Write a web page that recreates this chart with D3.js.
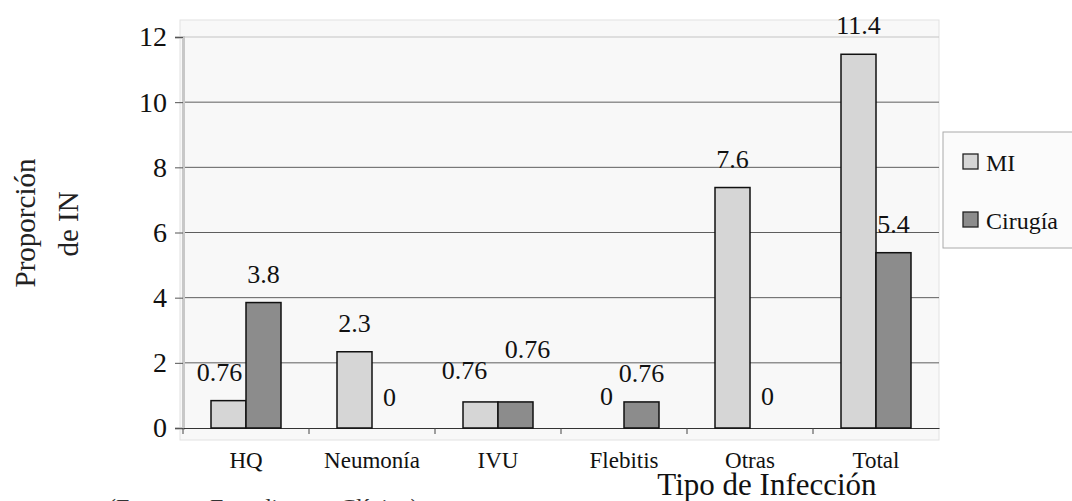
<!DOCTYPE html>
<html>
<head>
<meta charset="utf-8">
<script src="https://cdn.jsdelivr.net/npm/d3@7"></script>
<style>
  body { margin: 0; background: #fff; }
  svg { display: block; font-family: "Liberation Serif", "Times New Roman", serif; }
  .bar { stroke: #111; stroke-width: 1.5; }
</style>
</head>
<body>
<div id="chart"></div>
<script>
// categories and series
var categories = ["HQ", "Neumonía", "IVU", "Flebitis", "Otras", "Total"];
var seriesNames = ["MI", "Cirugía"];
// bar heights as drawn in the picture
var miValues = [0.84, 2.34, 0.8, 0, 7.38, 11.47];
var cirugiaValues = [3.85, 0, 0.8, 0.8, 0, 5.38];
// printed data labels
var miLabels = ["0.76", "2.3", "0.76", "0", "7.6", "11.4"];
var cirugiaLabels = ["3.8", "0", "0.76", "0.76", "0", "5.4"];
var yTicks = [0, 2, 4, 6, 8, 10, 12];

var colors = { "MI": "#d6d6d6", "Cirugía": "#8c8c8c" };

var width = 1072, height = 501;
var plot = { left: 183, right: 939, top: 37, bottom: 428 };

// hand-placed label nudges, like in the original sheet
var labelNudge = {
  "HQ|MI": [-9, 0],
  "Neumonía|Cirugía": [0, -2],
  "IVU|MI": [-16, -3],
  "IVU|Cirugía": [12, -24],
  "Flebitis|MI": [0, -3],
  "Otras|Cirugía": [0, -3]
};

var svg = d3.select("#chart")
  .append("svg")
  .attr("width", width)
  .attr("height", height);

var rows = categories.map(function(c, i) {
  return {
    cat: c,
    bars: [
      { cat: c, s: "MI", v: miValues[i], label: miLabels[i] },
      { cat: c, s: "Cirugía", v: cirugiaValues[i], label: cirugiaLabels[i] }
    ]
  };
});

var x0 = d3.scaleBand()
  .domain(categories)
  .range([plot.left, plot.right])
  .padding(0);

var x1 = d3.scaleBand()
  .domain(seriesNames)
  .range([0, x0.bandwidth()])
  .paddingInner(0)
  .paddingOuter(0.8);

var y = d3.scaleLinear()
  .domain([0, 12])
  .range([plot.bottom, plot.top]);

// plot area background
svg.append("rect")
  .attr("x", plot.left - 3)
  .attr("y", 20)
  .attr("width", plot.right - plot.left + 3)
  .attr("height", 420)
  .attr("fill", "#f8f8f8")
  .attr("stroke", "#e2e2e2");

// gridlines
svg.append("g")
  .selectAll("line")
  .data(yTicks.filter(function(d) { return d > 0; }))
  .enter()
  .append("line")
  .attr("x1", plot.left)
  .attr("x2", plot.right)
  .attr("y1", function(d) { return y(d); })
  .attr("y2", function(d) { return y(d); })
  .attr("stroke", function(d) { return d == 12 ? "#c4c4c4" : "#5e5e5e"; });

// y axis
var yAxis = d3.axisLeft(y)
  .tickValues(yTicks)
  .tickSize(8)
  .tickPadding(8);

var gy = svg.append("g")
  .attr("transform", "translate(" + plot.left + ",0)")
  .call(yAxis);
gy.select(".domain").attr("stroke", "#c8c8c8").attr("stroke-width", 3);
gy.selectAll(".tick line").attr("stroke", "#555");
gy.selectAll(".tick text")
  .attr("font-family", "Liberation Serif, serif")
  .attr("font-size", 28)
  .attr("fill", "#111");

// x axis
var xAxis = d3.axisBottom(x0)
  .tickSize(0)
  .tickPadding(24);

var gx = svg.append("g")
  .attr("transform", "translate(0," + plot.bottom + ")")
  .call(xAxis);
gx.select(".domain").attr("stroke", "#333").attr("stroke-width", 1.2);
gx.selectAll(".tick text")
  .attr("font-family", "Liberation Serif, serif")
  .attr("font-size", 23)
  .attr("fill", "#111");

// category boundary ticks
svg.append("g")
  .selectAll("line")
  .data(categories)
  .enter()
  .append("line")
  .attr("x1", function(d) { return x0(d); })
  .attr("x2", function(d) { return x0(d); })
  .attr("y1", plot.bottom)
  .attr("y2", plot.bottom + 6)
  .attr("stroke", "#444");

// bars
var groups = svg.append("g")
  .selectAll("g")
  .data(rows)
  .enter()
  .append("g")
  .attr("transform", function(d) { return "translate(" + x0(d.cat) + ",0)"; });

groups.selectAll("rect")
  .data(function(d) { return d.bars.filter(function(b) { return b.v > 0; }); })
  .enter()
  .append("rect")
  .attr("class", "bar")
  .attr("x", function(d) { return x1(d.s); })
  .attr("y", function(d) { return y(d.v); })
  .attr("width", x1.bandwidth())
  .attr("height", function(d) { return y(0) - y(d.v); })
  .attr("fill", function(d) { return colors[d.s]; });

// data labels
function nudge(d) {
  return labelNudge[d.cat + "|" + d.s] || [0, 0];
}

groups.selectAll("text")
  .data(function(d) { return d.bars; })
  .enter()
  .append("text")
  .attr("x", function(d) { return x1(d.s) + x1.bandwidth() / 2 + nudge(d)[0]; })
  .attr("y", function(d) { return y(d.v) - 20 + nudge(d)[1]; })
  .attr("text-anchor", "middle")
  .attr("font-size", 26)
  .attr("fill", "#111")
  .text(function(d) { return d.label; });

// axis titles
svg.append("text")
  .attr("transform", "translate(35,223) rotate(-90)")
  .attr("text-anchor", "middle")
  .attr("font-size", 29)
  .attr("fill", "#222")
  .text("Proporción");
svg.append("text")
  .attr("transform", "translate(78,224) rotate(-90)")
  .attr("text-anchor", "middle")
  .attr("font-size", 29)
  .attr("fill", "#222")
  .text("de IN");

svg.append("text")
  .attr("x", 767)
  .attr("y", 495)
  .attr("text-anchor", "middle")
  .attr("font-size", 31)
  .attr("fill", "#111")
  .text("Tipo de Infección");

// source note, cut off at the bottom edge as in the scan
svg.append("text")
  .attr("x", 108)
  .attr("y", 515)
  .attr("font-size", 24)
  .attr("word-spacing", 16)
  .attr("fill", "#333")
  .text("(Fuente: Expediente Clínico)");

// legend
var legend = svg.append("g").attr("transform", "translate(943,132)");
legend.append("rect")
  .attr("width", 140)
  .attr("height", 116)
  .attr("fill", "#fbfbfb")
  .attr("stroke", "#aaa");

var items = legend.selectAll(".item")
  .data(seriesNames)
  .enter()
  .append("g")
  .attr("class", "item")
  .attr("transform", function(d, i) { return "translate(20," + (22 + i * 58) + ")"; });

items.append("rect")
  .attr("width", 15)
  .attr("height", 15)
  .attr("fill", function(d) { return colors[d]; })
  .attr("stroke", "#222")
  .attr("stroke-width", 1.3);

items.append("text")
  .attr("x", 23)
  .attr("y", 17)
  .attr("font-size", 24)
  .attr("fill", "#111")
  .text(function(d) { return d; });
</script>
</body>
</html>
